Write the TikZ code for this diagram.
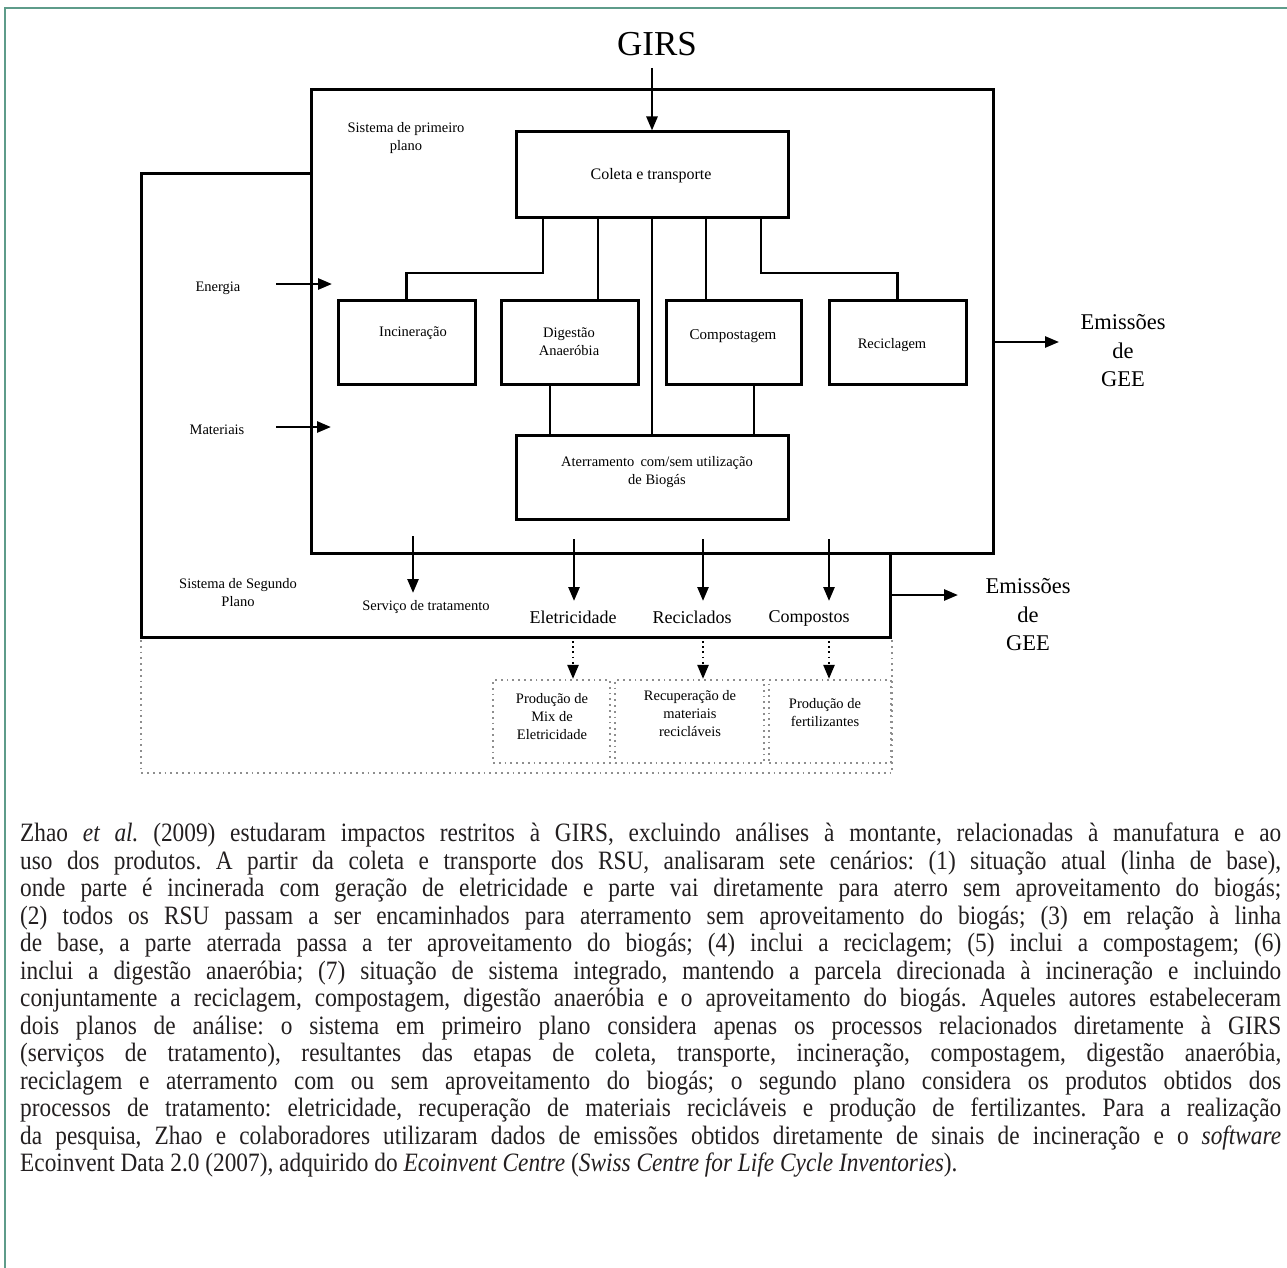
\documentclass[tikz,border=0pt]{standalone}
\usepackage{fontspec}
\setmainfont{Liberation Serif}
\newfontfamily\bodyfont{Liberation Serif}[FakeStretch=0.88]
\usetikzlibrary{arrows.meta}
\definecolor{framegreen}{HTML}{5E9C8A}
\definecolor{dotgray}{HTML}{8E8E8E}
\definecolor{bodytext}{HTML}{231F20}

\begin{document}
\begin{tikzpicture}[x=1pt,y=-1pt,
  procbox/.style={draw=black,line width=3pt,inner sep=0pt,rectangle},
  dotbox/.style={draw=dotgray,line width=2.2pt,dash pattern=on 1.8pt off 4pt,inner sep=0pt,rectangle},
  link/.style={draw=black,line width=2.6pt},
  arr/.style={link,-{Triangle[length=14pt,width=11pt]}},
  dotarr/.style={draw=black,line width=2.4pt,dash pattern=on 1.8pt off 3.4pt,-{Triangle[length=14pt,width=11pt]}},
  lbl/.style={font=\fontsize{14.5}{18}\selectfont,align=center,inner sep=0pt},
  midlbl/.style={font=\fontsize{18}{22}\selectfont,align=center,inner sep=0pt},
  biglbl/.style={font=\fontsize{22.5}{28.5}\selectfont,align=center,inner sep=0pt}
]
\useasboundingbox (0,0) rectangle (1287,1268);
\fill[white] (0,0) rectangle (1287,1268);

% page frame
\draw[framegreen,line width=2.2pt] (1287,8) -- (5,8) -- (5,1268);

% title and input arrow
\node[inner sep=0pt,font=\fontsize{35}{40}\selectfont] (girs) at (657,44) {GIRS};

% foreground system frame
\node[procbox,minimum width=682pt,minimum height=463pt] (fp) at (652,321.5) {};
% background system outline
\draw[line width=3pt] (fp.west |- 0,174) -- (141,174) -- (141,637) -- (890,637) -- (890,553);
% dotted frame of the products
\draw[draw=dotgray,line width=2.2pt,dash pattern=on 1.8pt off 4pt] (141,640) -- (141,773) -- (892,773) -- (892,640);

% process boxes
\node[procbox,minimum width=272pt,minimum height=85pt] (col) at (652,174.5) {};
\node[lbl,font=\fontsize{16}{18}\selectfont] (colt) at (651,176) {Coleta e transporte};
\node[procbox,minimum width=137pt,minimum height=84pt] (inc) at (406.5,342) {};
\node[lbl] (inct) at (413,333) {Incinera\c{c}\~ao};
\node[procbox,minimum width=137pt,minimum height=84pt] (dig) at (569.5,342) {};
\node[lbl] (digt) at (569,342) {Digest\~ao\\Anaer\'obia};
\node[procbox,minimum width=135pt,minimum height=84pt] (cmp) at (733.5,342) {};
\node[lbl,font=\fontsize{15}{18}\selectfont] (cmpt) at (733,336) {Compostagem};
\node[procbox,minimum width=137pt,minimum height=84pt] (rec) at (897.5,342) {};
\node[lbl] (rect) at (892,345) {Reciclagem};
\node[procbox,minimum width=272pt,minimum height=84pt] (ate) at (652,477) {};
\node[lbl] (atet) at (657,472) {Aterramento\, com/sem utiliza\c{c}\~ao\\de Biog\'as};

% input and output labels
\node[lbl] (fpt) at (406,138) {Sistema de primeiro\\plano};
\node[lbl] (ene) at (218,288) {Energia};
\node[lbl] (mat) at (217,430) {Materiais};
\node[biglbl] (em1) at (1123,351) {Emiss\~oes\\de\\GEE};
\node[lbl] (bgt) at (238,593) {Sistema de Segundo\\Plano};
\node[lbl] (srv) at (426,607) {Servi\c{c}o de tratamento};
\node[midlbl] (ele) at (573,617) {Eletricidade};
\node[midlbl] (rcl) at (692,617) {Reciclados};
\node[midlbl] (cps) at (809,618) {Compostos};
\node[biglbl] (em2) at (1028,615) {Emiss\~oes\\de\\GEE};

% product boxes
\node[dotbox,minimum width=117pt,minimum height=83pt] (pme) at (551.5,721.5) {};
\node[lbl] (pmet) at (552,717) {Produ\c{c}\~ao de\\Mix de\\Eletricidade};
\node[dotbox,minimum width=149pt,minimum height=83pt] (rmr) at (689.5,721.5) {};
\node[lbl] (rmrt) at (690,714) {Recupera\c{c}\~ao de\\materiais\\recicl\'aveis};
\node[dotbox,minimum width=122pt,minimum height=83pt] (pfe) at (830,721.5) {};
\node[lbl] (pfet) at (825,713) {Produ\c{c}\~ao de\\fertilizantes};

% connector end points
\coordinate (girsout) at (652,68);
\coordinate (eneout) at (276,284);
\coordinate (enein) at (332,284);
\coordinate (matout) at (276,427);
\coordinate (matin) at (331,427);
\coordinate (em1out) at (fp.east |- 0,342);
\coordinate (em1in) at (1059,342);
\coordinate (em2out) at (890,595);
\coordinate (em2in) at (958,595);
\coordinate (srvout) at (413,536);
\coordinate (srvin) at (413,593);
\coordinate (eleout) at (574,539);
\coordinate (elein) at (574,601);
\coordinate (rclout) at (703,539);
\coordinate (rclin) at (703,601);
\coordinate (cpsout) at (829,539);
\coordinate (cpsin) at (829,601);

% collection branches
\draw[arr] (girsout) -- (col.north);
\draw[link] (col.south -| 543,0) |- (inc.north |- 0,273) -- (inc.north);
\draw[link] (col.south -| 598,0) -- (dig.north -| 598,0);
\draw[link] (col.south) -- (ate.north);
\draw[link] (col.south -| 706,0) -- (cmp.north -| 706,0);
\draw[link] (col.south -| 761,0) |- (rec.north |- 0,273) -- (rec.north);
\draw[link] (dig.south -| 550,0) -- (ate.north -| 550,0);
\draw[link] (cmp.south -| 754,0) -- (ate.north -| 754,0);

% inputs and emissions
\draw[arr] (eneout) -- (enein);
\draw[arr] (matout) -- (matin);
\draw[arr] (em1out) -- (em1in);
\draw[arr] (em2out) -- (em2in);

% outputs of the foreground system
\draw[arr] (srvout) -- (srvin);
\draw[arr] (eleout) -- (elein);
\draw[arr] (rclout) -- (rclin);
\draw[arr] (cpsout) -- (cpsin);

% products of the background system
\draw[dotarr] (ele.south |- 0,641) -- (pme.north -| ele.south);
\draw[dotarr] (703,641) -- (rmr.north -| 703,0);
\draw[dotarr] (829,641) -- (pfe.north -| 829,0);

% text below the figure
\node[anchor=north west,text width=1261pt,align=justify,inner sep=0pt,
  font=\bodyfont\fontsize{26.5}{27.5}\selectfont,text=bodytext] (para) at (20,823) {%
\noindent\frenchspacing Zhao \textit{et al.} (2009) estudaram impactos restritos à GIRS, excluindo análises à montante, relacionadas à manufatura e ao\linebreak
uso dos produtos. A partir da coleta e transporte dos RSU, analisaram sete cenários: (1) situação atual (linha de base),\linebreak
onde parte é incinerada com geração de eletricidade e parte vai diretamente para aterro sem aproveitamento do biogás;\linebreak
(2) todos os RSU passam a ser encaminhados para aterramento sem aproveitamento do biogás; (3) em relação à linha\linebreak
de base, a parte aterrada passa a ter aproveitamento do biogás; (4) inclui a reciclagem; (5) inclui a compostagem; (6)\linebreak
inclui a digestão anaeróbia; (7) situação de sistema integrado, mantendo a parcela direcionada à incineração e incluindo\linebreak
conjuntamente a reciclagem, compostagem, digestão anaeróbia e o aproveitamento do biogás. Aqueles autores estabeleceram\linebreak
dois planos de análise: o sistema em primeiro plano considera apenas os processos relacionados diretamente à GIRS\linebreak
(serviços de tratamento), resultantes das etapas de coleta, transporte, incineração, compostagem, digestão anaeróbia,\linebreak
reciclagem e aterramento com ou sem aproveitamento do biogás; o segundo plano considera os produtos obtidos dos\linebreak
processos de tratamento: eletricidade, recuperação de materiais recicláveis e produção de fertilizantes. Para a realização\linebreak
da pesquisa, Zhao e colaboradores utilizaram dados de emissões obtidos diretamente de sinais de incineração e o \textit{software}\linebreak
Ecoinvent Data 2.0 (2007), adquirido do \textit{Ecoinvent Centre} (\textit{Swiss Centre for Life Cycle Inventories}).};
\end{tikzpicture}
\end{document}
